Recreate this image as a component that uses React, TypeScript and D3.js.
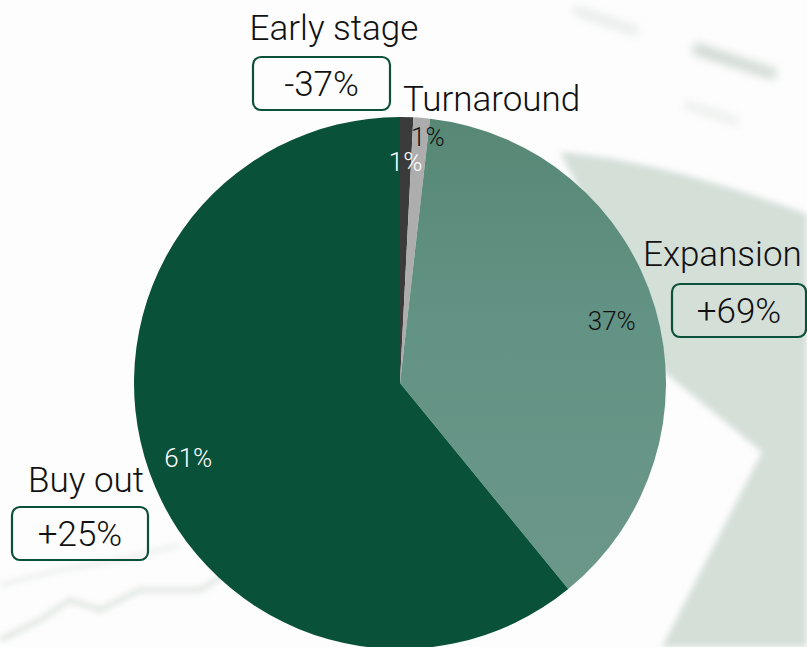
import React, { useEffect, useRef } from "react";
import * as d3 from "d3";

// ---- data ----
const categories = ["Early stage", "Turnaround", "Expansion", "Buy out"];
const shares = [0.8, 1.0, 37.3, 60.9]; // % of total
const changes = ["-37%", "", "+69%", "+25%"]; // yearly change shown in boxes

// ---- style / layout ----
const W = 807;
const H = 647;
const CX = 400;
const CY = 383;
const R = 266;
const sliceColors = ["#3b3b3b", "#adadad", "url(#expGrad)", "#0a513a"];
const pctColors = ["#ffffff", "#111111", "#111111", "#ffffff"];
const labelRadius = [0.83, 0.93, 0.83, 0.845];
const labelAngleMode = ["mid", "end", "mid", "mid"];
const catLayout = [
  { x: 334, y: 40, anchor: "middle" },
  { x: 403, y: 111, anchor: "start" },
  { x: 643, y: 266, anchor: "start" },
  { x: 144, y: 492, anchor: "end" },
];
const boxLayout = [
  { x: 253, y: 57, w: 137, h: 53 },
  null,
  { x: 672, y: 284, w: 134, h: 53 },
  { x: 12, y: 507, w: 136, h: 53 },
];

export default function App() {
  const ref = useRef<SVGSVGElement | null>(null);

  useEffect(() => {
    const svg = d3.select(ref.current);
    svg.selectAll("*").remove();
    const defs = svg.append("defs");
    const blur = defs.append("filter").attr("id", "blur").attr("x", "-20%").attr("y", "-20%").attr("width", "140%").attr("height", "140%");
    blur.append("feGaussianBlur").attr("stdDeviation", 3);
    const blur2 = defs.append("filter").attr("id", "blur2").attr("x", "-20%").attr("y", "-50%").attr("width", "140%").attr("height", "200%");
    blur2.append("feGaussianBlur").attr("stdDeviation", 5);
    const g = defs.append("linearGradient").attr("id", "expGrad").attr("x1", 0).attr("y1", 0).attr("x2", 0).attr("y2", 1);
    g.append("stop").attr("offset", "0%").attr("stop-color", "#578876");
    g.append("stop").attr("offset", "45%").attr("stop-color", "#639384");
    g.append("stop").attr("offset", "100%").attr("stop-color", "#6b9789");

    // background
    svg.append("rect").attr("width", W).attr("height", H).attr("fill", "#fdfdfd");
    const bg = svg.append("g");
    bg.append("path")
      .attr("d", "M560,152 Q660,160 807,214 L807,647 L662,647 L762,452 L664,372 L610,250 Z")
      .attr("fill", "#d4dfd8")
      .attr("filter", "url(#blur)");
    bg.append("path")
      .attr("d", "M695,42 L778,70 L774,80 L692,54 Z")
      .attr("fill", "#d0d9d3")
      .attr("filter", "url(#blur2)");
    bg.append("path")
      .attr("d", "M575,5 L640,28 L636,36 L572,14 Z")
      .attr("fill", "#e6ebe8")
      .attr("filter", "url(#blur2)");
    bg.append("path")
      .attr("d", "M685,100 L740,118 L738,126 L683,108 Z")
      .attr("fill", "#eaeeeb")
      .attr("filter", "url(#blur2)");
    bg.append("path")
      .attr("d", "M0,640 L40,620 L70,600 L100,610 L140,590 L200,590 L240,565 L280,555")
      .attr("fill", "none")
      .attr("stroke", "#dde4df")
      .attr("stroke-width", 5)
      .attr("filter", "url(#blur)");
    bg.append("path")
      .attr("d", "M0,585 L60,570 L120,560 L180,545")
      .attr("fill", "none")
      .attr("stroke", "#e8ece9")
      .attr("stroke-width", 4)
      .attr("filter", "url(#blur)");

    // pie
    const pie = d3.pie<number>().sort(null).value((d) => d).startAngle(0).endAngle(2 * Math.PI);
    const arcs = pie(shares);
    const arc = d3.arc<d3.PieArcDatum<number>>().innerRadius(0).outerRadius(R);
    const chart = svg.append("g").attr("transform", `translate(${CX},${CY})`);
    chart
      .selectAll("path.slice")
      .data(arcs)
      .join("path")
      .attr("class", "slice")
      .attr("d", arc)
      .attr("fill", (_d, i) => sliceColors[i]);

    const font = "Roboto, 'Open Sans', sans-serif";
    chart
      .selectAll("text.pct")
      .data(arcs)
      .join("text")
      .attr("class", "pct")
      .attr("x", (d, i) => {
        const a = labelAngleMode[i] === "end" ? d.endAngle : (d.startAngle + d.endAngle) / 2;
        return Math.sin(a) * R * labelRadius[i];
      })
      .attr("y", (d, i) => {
        const a = labelAngleMode[i] === "end" ? d.endAngle : (d.startAngle + d.endAngle) / 2;
        return -Math.cos(a) * R * labelRadius[i] + 9;
      })
      .attr("text-anchor", "middle")
      .attr("font-family", font)
      .attr("font-weight", 300)
      .attr("font-size", 26)
      .attr("fill", (_d, i) => pctColors[i])
      .text((d) => `${Math.round(d.data)}%`);

    // category labels
    svg
      .selectAll("text.cat")
      .data(categories)
      .join("text")
      .attr("class", "cat")
      .attr("x", (_d, i) => catLayout[i].x)
      .attr("y", (_d, i) => catLayout[i].y)
      .attr("text-anchor", (_d, i) => catLayout[i].anchor)
      .attr("font-family", font)
      .attr("font-weight", 300)
      .attr("font-size", 35)
      .attr("fill", "#111")
      .text((d) => d);

    // change boxes
    changes.forEach((c, i) => {
      const b = boxLayout[i];
      if (!b || !c) return;
      svg
        .append("rect")
        .attr("x", b.x)
        .attr("y", b.y)
        .attr("width", b.w)
        .attr("height", b.h)
        .attr("rx", 8)
        .attr("fill", "none")
        .attr("stroke", "#0b5039")
        .attr("stroke-width", 2.2);
      svg
        .append("text")
        .attr("x", b.x + b.w / 2)
        .attr("y", b.y + b.h / 2 + 12)
        .attr("text-anchor", "middle")
        .attr("font-family", font)
        .attr("font-weight", 300)
        .attr("font-size", 35)
        .attr("fill", "#111")
        .text(c);
    });
  }, []);

  return (
    <svg
      ref={ref}
      width={W}
      height={H}
      style={{ position: "absolute", left: 0, top: 0, display: "block" }}
    />
  );
}
